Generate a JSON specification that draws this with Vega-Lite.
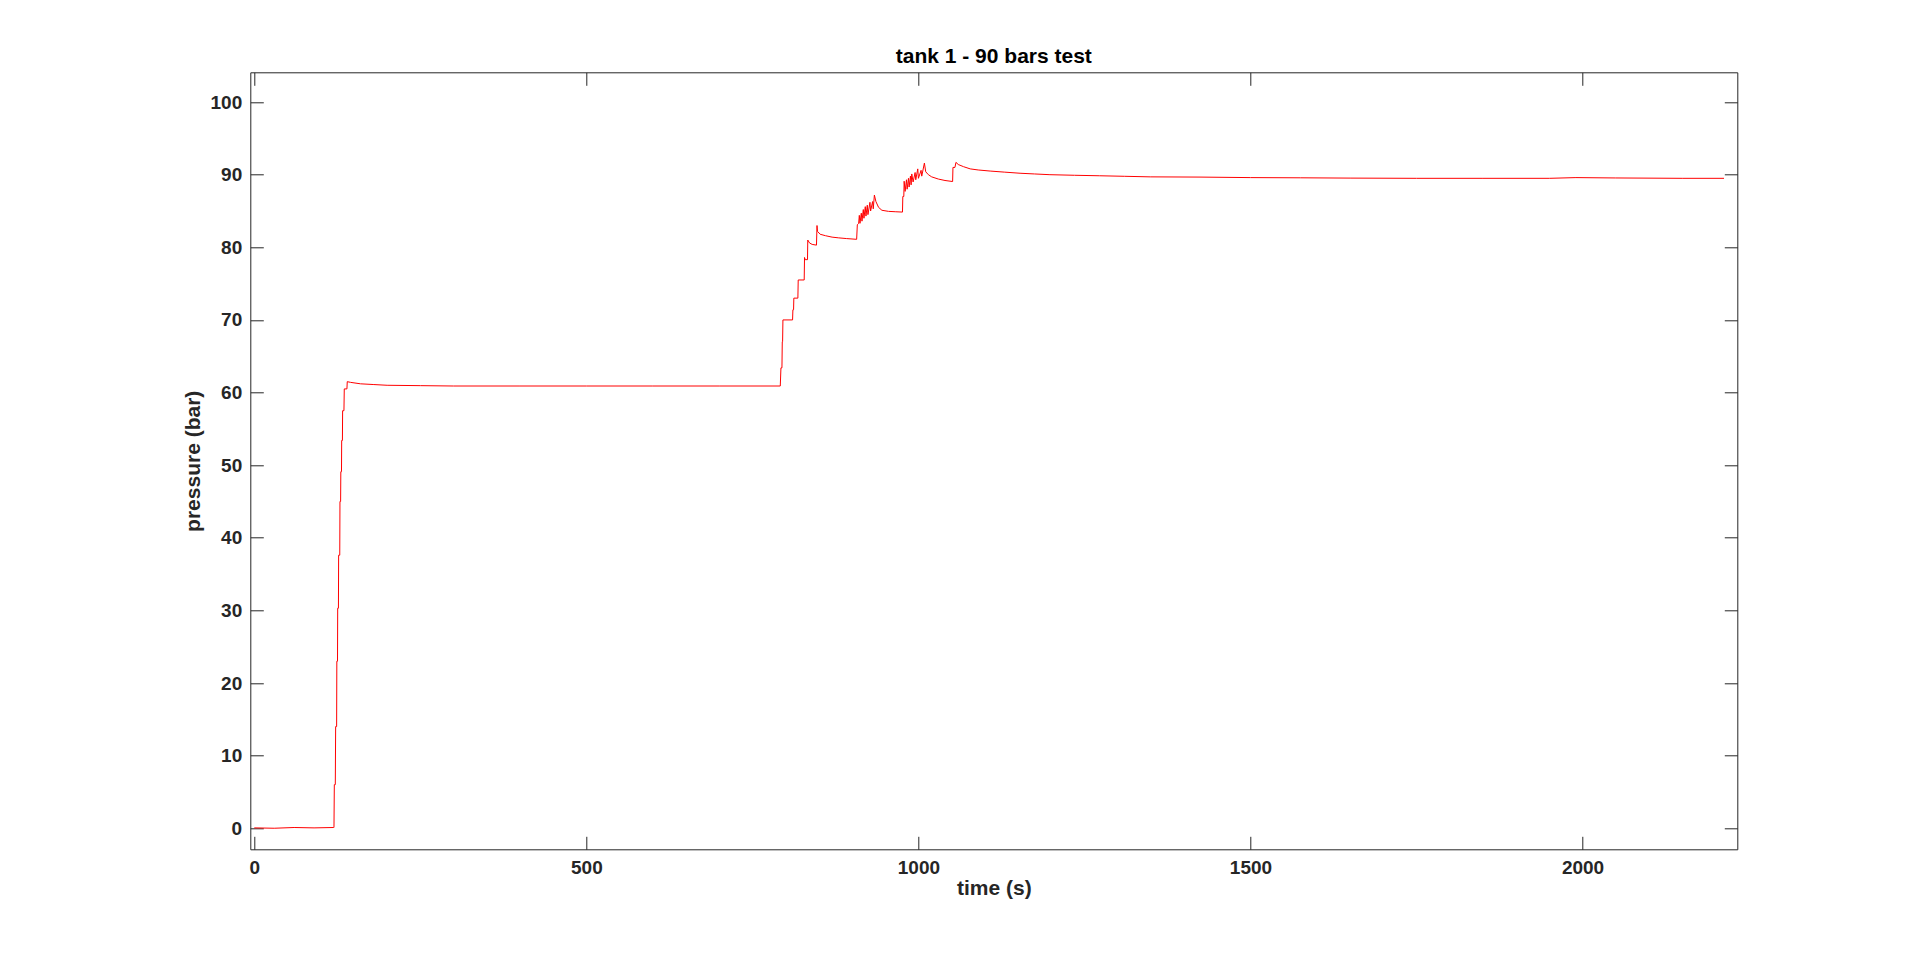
{
  "$schema": "https://vega.github.io/schema/vega-lite/v6.json",
  "width": 1487,
  "height": 777,
  "autosize": "none",
  "padding": {"left": 250.3, "top": 72.3, "right": 182.7, "bottom": 105.7},
  "background": "white",
  "title": {"text": "tank 1 - 90 bars test", "font": "Liberation Sans", "fontSize": 21, "fontWeight": "bold", "color": "#000000", "offset": -12.5, "baseline": "alphabetic", "anchor": "middle"},
  "config": {
    "view": {"stroke": null},
    "axis": {
      "grid": false,
      "domainColor": "#262626", "domainWidth": 1,
      "tickColor": "#262626", "tickWidth": 1, "tickSize": -13,
      "labelFont": "Liberation Sans", "labelFontSize": 19, "labelFontWeight": "bold", "labelColor": "#262626",
      "labelFlush": false, "labelOverlap": false,
      "titleFont": "Liberation Sans", "titleFontSize": 21, "titleFontWeight": "bold", "titleColor": "#262626"
    }
  },
  "data": {"values": [
    {"t": 0, "p": 0.05}, {"t": 30, "p": 0.0}, {"t": 60, "p": 0.1}, {"t": 90, "p": 0.05}, {"t": 119, "p": 0.1},
    {"t": 120, "p": 0.1}, {"t": 120.5, "p": 6}, {"t": 122, "p": 6}, {"t": 122.5, "p": 14}, {"t": 124, "p": 14},
    {"t": 124.3, "p": 23}, {"t": 125.3, "p": 23}, {"t": 125.6, "p": 30.3}, {"t": 126.7, "p": 30.3}, {"t": 127, "p": 37.6},
    {"t": 128.7, "p": 37.6}, {"t": 129, "p": 45}, {"t": 130, "p": 45}, {"t": 130.3, "p": 49.1}, {"t": 131.3, "p": 49.1},
    {"t": 131.6, "p": 53.4}, {"t": 132.7, "p": 53.4}, {"t": 133, "p": 57.5}, {"t": 135, "p": 57.5}, {"t": 135.5, "p": 60.5},
    {"t": 139.5, "p": 60.5}, {"t": 140, "p": 61.5}, {"t": 145, "p": 61.4}, {"t": 160, "p": 61.2}, {"t": 180, "p": 61.1},
    {"t": 200, "p": 61.0}, {"t": 250, "p": 60.95}, {"t": 300, "p": 60.9}, {"t": 400, "p": 60.9}, {"t": 500, "p": 60.9},
    {"t": 600, "p": 60.9}, {"t": 700, "p": 60.9}, {"t": 792, "p": 60.9},
    {"t": 793, "p": 63.4}, {"t": 794.5, "p": 63.4}, {"t": 795, "p": 67}, {"t": 795.5, "p": 67}, {"t": 796, "p": 70},
    {"t": 810.5, "p": 70}, {"t": 811, "p": 71.4}, {"t": 812, "p": 71.4}, {"t": 812.4, "p": 73}, {"t": 818.5, "p": 73},
    {"t": 819, "p": 75.5}, {"t": 828, "p": 75.5}, {"t": 828.5, "p": 78.6}, {"t": 829.5, "p": 78.3}, {"t": 833, "p": 78.3},
    {"t": 833.4, "p": 81.0}, {"t": 836, "p": 80.6}, {"t": 840, "p": 80.4}, {"t": 846.5, "p": 80.3}, {"t": 847.3, "p": 83.0},
    {"t": 848, "p": 82.2}, {"t": 852, "p": 81.8}, {"t": 860, "p": 81.6}, {"t": 870, "p": 81.4}, {"t": 880, "p": 81.3},
    {"t": 892, "p": 81.2}, {"t": 907, "p": 81.1},
    {"t": 908, "p": 83.1}, {"t": 910, "p": 83.3}, {"t": 911, "p": 84.4}, {"t": 912, "p": 83.3}, {"t": 914, "p": 84.7},
    {"t": 915, "p": 83.6}, {"t": 917, "p": 85.2}, {"t": 918, "p": 84.0}, {"t": 920, "p": 85.6}, {"t": 921, "p": 84.3},
    {"t": 923, "p": 85.8}, {"t": 924, "p": 84.5}, {"t": 927, "p": 86.2}, {"t": 928, "p": 85.0}, {"t": 931, "p": 86.3},
    {"t": 932, "p": 85.3}, {"t": 933.7, "p": 87.2}, {"t": 936, "p": 86.3}, {"t": 940, "p": 85.5}, {"t": 945, "p": 85.1},
    {"t": 955, "p": 84.95}, {"t": 965, "p": 84.9}, {"t": 976, "p": 84.85},
    {"t": 976.5, "p": 87.0}, {"t": 978, "p": 87.0}, {"t": 978.5, "p": 89.1}, {"t": 980, "p": 87.7}, {"t": 982, "p": 89.3},
    {"t": 983, "p": 88.0}, {"t": 985, "p": 89.5}, {"t": 986, "p": 88.3}, {"t": 988, "p": 89.8}, {"t": 989, "p": 88.6},
    {"t": 990, "p": 90.1}, {"t": 992, "p": 89.0}, {"t": 995, "p": 90.3}, {"t": 996, "p": 89.3}, {"t": 999, "p": 90.8},
    {"t": 1000, "p": 89.5}, {"t": 1004, "p": 90.6}, {"t": 1005, "p": 89.8}, {"t": 1009, "p": 91.6}, {"t": 1011, "p": 90.4},
    {"t": 1015, "p": 90.0}, {"t": 1020, "p": 89.7}, {"t": 1030, "p": 89.4}, {"t": 1040, "p": 89.2}, {"t": 1051.5, "p": 89.06},
    {"t": 1052, "p": 91.0}, {"t": 1055, "p": 91.0}, {"t": 1056.5, "p": 91.7}, {"t": 1060, "p": 91.4}, {"t": 1068, "p": 91.1},
    {"t": 1078, "p": 90.8}, {"t": 1090, "p": 90.65}, {"t": 1108, "p": 90.5}, {"t": 1130, "p": 90.35}, {"t": 1153, "p": 90.2},
    {"t": 1175, "p": 90.1}, {"t": 1198, "p": 90.0}, {"t": 1235, "p": 89.92}, {"t": 1273, "p": 89.85}, {"t": 1310, "p": 89.78},
    {"t": 1349, "p": 89.7}, {"t": 1424, "p": 89.67}, {"t": 1500, "p": 89.6}, {"t": 1575, "p": 89.57}, {"t": 1650, "p": 89.53},
    {"t": 1750, "p": 89.5}, {"t": 1850, "p": 89.5}, {"t": 1950, "p": 89.5}, {"t": 1990, "p": 89.6}, {"t": 2050, "p": 89.55},
    {"t": 2150, "p": 89.5}, {"t": 2213, "p": 89.5}
  ]},
  "layer": [
    {
      "mark": {"type": "line", "color": "#ff0000", "strokeWidth": 1},
      "encoding": {
        "x": {"field": "t", "type": "quantitative", "scale": {"domain": [-6, 2233], "nice": false, "zero": false},
          "axis": {"orient": "bottom", "values": [0, 500, 1000, 1500, 2000], "format": "d", "labelPadding": 22.3,
            "title": "time (s)", "titleY": 44.7, "titleBaseline": "alphabetic"}},
        "y": {"field": "p", "type": "quantitative", "scale": {"domain": [-2.9, 104.1], "nice": false, "zero": false},
          "axis": {"orient": "left", "values": [0, 10, 20, 30, 40, 50, 60, 70, 80, 90, 100], "format": "d", "labelPadding": 21.6,
            "title": "pressure (bar)", "titleX": -51, "titleY": 388.5, "titleAngle": 270, "titleBaseline": "alphabetic", "titleAlign": "center"}}
      }
    },
    {
      "mark": {"type": "point", "opacity": 0},
      "encoding": {
        "x": {"field": "t", "type": "quantitative",
          "axis": {"orient": "top", "values": [0, 500, 1000, 1500, 2000], "labels": false, "title": null}},
        "y": {"field": "p", "type": "quantitative",
          "axis": {"orient": "right", "values": [0, 10, 20, 30, 40, 50, 60, 70, 80, 90, 100], "labels": false, "title": null}}
      }
    }
  ],
  "resolve": {"axis": {"x": "independent", "y": "independent"}}
}
